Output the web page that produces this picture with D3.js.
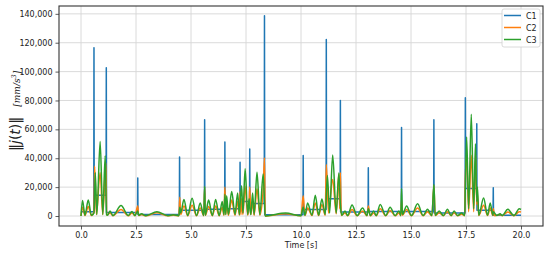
<!DOCTYPE html>
<html lang="en">
<head>
    <meta charset="UTF-8">
    <title>Jerk norm over time</title>
    <script src="https://d3js.org/d3.v7.min.js"></script>
    <style>
        body { margin: 0; background: #fff; }
        text { font-family: "DejaVu Sans", sans-serif; fill: #222; }
        .grid line { stroke: #d6d6d6; stroke-width: 0.9; }
        .series { fill: none; stroke-width: 1.5; stroke-linejoin: round; }
    </style>
</head>
<body>
<script>
// time ticks and value ticks
const xTicks = [0, 2.5, 5, 7.5, 10, 12.5, 15, 17.5, 20];
const yTicks = [0, 20000, 40000, 60000, 80000, 100000, 120000, 140000];
const seriesNames = ["C1", "C2", "C3"];
const colors = ["#1f77b4", "#ff7f0e", "#2ca02c"];

// C1: flat levels with spikes at each switch
const c1 = [
    [0, 3000], [0.58, 3000], [0.59, 116600], [0.60, 14300], [1.14, 14300], [1.15, 102600], [1.16, 2500],
    [2.57, 2500], [2.58, 26400], [2.59, 1000], [4.47, 1000], [4.48, 40900], [4.49, 3900],
    [5.61, 3900], [5.62, 66600], [5.63, 4600], [6.53, 4600], [6.54, 51200], [6.55, 5000],
    [7.22, 5000], [7.23, 37300], [7.24, 10100], [7.66, 10100], [7.67, 46400], [7.68, 8700],
    [8.33, 8700], [8.34, 138700], [8.35, 800], [10.09, 800], [10.10, 41900], [10.11, 4500],
    [11.14, 4500], [11.15, 122300], [11.16, 12000], [11.78, 12000], [11.79, 80000], [11.80, 2800],
    [13.05, 2800], [13.06, 33400], [13.07, 3200], [14.56, 3200], [14.57, 61300], [14.58, 3200],
    [16.03, 3200], [16.04, 66600], [16.05, 2100], [17.46, 2100], [17.47, 81900], [17.48, 19000],
    [17.98, 19000], [17.99, 63800], [18.00, 3900], [18.73, 3900], [18.74, 19600], [18.75, 500], [20, 500]
];

// C2
const c2 = [
    [0, 0], [0.07, 6000], [0.18, 300], [0.33, 6500], [0.47, 300], [0.59, 3000], [0.62, 34400], [0.70, 1000],
    [0.87, 30000], [0.99, 1000], [1.13, 36800], [1.17, 500],
    [1.32, 2000], [1.45, 200], [1.82, 4500], [2.15, 200], [2.32, 2000], [2.45, 200], [2.58, 7000], [2.62, 300],
    [2.75, 1000], [2.95, 100], [3.45, 2200], [3.95, 100], [4.20, 500], [4.45, 200],
    [4.49, 13000], [4.53, 1000], [4.68, 7000], [4.85, 200], [5.05, 7500], [5.25, 200], [5.42, 5500], [5.58, 200],
    [5.62, 20000], [5.65, 500], [5.80, 6500], [5.97, 200], [6.12, 7000], [6.28, 200], [6.42, 6000], [6.50, 500],
    [6.54, 20000], [6.58, 1000], [6.62, 9000], [6.70, 500], [6.85, 11000], [7.00, 500], [7.12, 10000], [7.20, 500],
    [7.23, 17000], [7.27, 1000], [7.30, 12000], [7.36, 1000], [7.46, 20600], [7.58, 500], [7.64, 8000],
    [7.67, 20000], [7.72, 1000], [7.80, 10000], [7.87, 500], [8.00, 18800], [8.13, 500], [8.28, 18000],
    [8.34, 40200], [8.37, 0], [8.50, 100], [9.30, 1600], [10.00, 100],
    [10.10, 14000], [10.18, 300], [10.30, 5500], [10.50, 300], [10.65, 9000], [10.80, 300], [10.95, 8000], [11.10, 500],
    [11.15, 35600], [11.25, 2000], [11.44, 25300], [11.60, 1500], [11.72, 28700], [11.76, 5000], [11.79, 30000], [11.83, 300],
    [12.00, 2000], [12.12, 200], [12.32, 4500], [12.55, 200], [12.80, 3500], [13.00, 200],
    [13.06, 7000], [13.15, 200], [13.30, 2000], [13.42, 200], [13.60, 5000], [13.85, 200], [14.05, 3800], [14.28, 200],
    [14.45, 2000], [14.54, 200], [14.57, 11000], [14.61, 500], [14.80, 4500], [15.02, 200], [15.30, 5500], [15.55, 200],
    [15.75, 3000], [15.95, 200], [16.04, 21000], [16.10, 300], [16.28, 2200], [16.47, 200], [16.66, 3000], [16.82, 200],
    [16.96, 2200], [17.12, 200], [17.30, 1200], [17.44, 200], [17.47, 25000], [17.53, 42500], [17.62, 3000],
    [17.74, 42000], [17.85, 3000], [17.94, 42500], [17.99, 8000], [18.02, 15000], [18.08, 300], [18.30, 7500],
    [18.48, 300], [18.60, 5500], [18.72, 300], [18.74, 5000], [18.80, 200], [19.05, 1000], [19.15, 200],
    [19.40, 2800], [19.68, 200], [19.92, 3000], [20, 2800]
];

// C3
const c3 = [
    [0, 0], [0.07, 10800], [0.18, 500], [0.33, 11000], [0.47, 500], [0.59, 2000], [0.65, 30000], [0.72, 1000],
    [0.87, 51600], [0.99, 1000], [1.10, 41800], [1.16, 1000],
    [1.20, 500], [1.32, 3400], [1.45, 300], [1.82, 7200], [2.15, 300], [2.32, 3200], [2.45, 300], [2.58, 3500], [2.62, 500],
    [2.75, 1500], [2.95, 200], [3.45, 3000], [3.95, 200], [4.20, 800], [4.45, 200],
    [4.49, 6000], [4.53, 2000], [4.68, 11500], [4.85, 300], [5.05, 12300], [5.25, 300], [5.42, 9000], [5.58, 300],
    [5.62, 20600], [5.65, 500], [5.80, 11000], [5.97, 300], [6.12, 11500], [6.28, 300], [6.42, 10000], [6.50, 800],
    [6.54, 15000], [6.58, 1000], [6.62, 14000], [6.70, 1000], [6.85, 17000], [7.00, 1000], [7.12, 16000], [7.20, 1000],
    [7.23, 8000], [7.30, 21000], [7.36, 2000], [7.46, 32700], [7.58, 1000], [7.64, 12000],
    [7.67, 6000], [7.72, 1000], [7.80, 16000], [7.87, 1000], [8.00, 30300], [8.13, 1000], [8.28, 29000],
    [8.34, 10000], [8.37, 0], [8.50, 200], [9.30, 2000], [10.00, 200],
    [10.10, 6000], [10.18, 500], [10.30, 9000], [10.50, 500], [10.65, 14400], [10.80, 500], [10.95, 11800], [11.10, 1000],
    [11.20, 28000], [11.30, 2000], [11.44, 42300], [11.60, 2000], [11.72, 29800], [11.79, 8000], [11.85, 500],
    [12.00, 3500], [12.12, 300], [12.32, 7600], [12.55, 300], [12.80, 5500], [13.00, 300],
    [13.06, 5000], [13.15, 300], [13.30, 3500], [13.42, 300], [13.60, 8000], [13.85, 300], [14.05, 6000], [14.28, 300],
    [14.45, 3500], [14.54, 300], [14.57, 19000], [14.61, 1000], [14.80, 7000], [15.02, 300], [15.30, 8500], [15.55, 300],
    [15.75, 4600], [15.95, 300], [16.04, 21800], [16.10, 500], [16.28, 3500], [16.47, 300], [16.66, 4600], [16.82, 300],
    [16.96, 3500], [17.12, 300], [17.30, 2000], [17.44, 300], [17.47, 20000], [17.53, 54700], [17.62, 5000],
    [17.74, 70500], [17.85, 5000], [17.93, 50000], [17.99, 10000], [18.02, 20000], [18.08, 500], [18.30, 12400],
    [18.48, 500], [18.60, 9000], [18.72, 500], [18.74, 3000], [18.90, 300], [19.05, 1500], [19.15, 300],
    [19.40, 4600], [19.68, 300], [19.92, 5000], [20, 4500]
];

const seriesData = [c1, c2, c3];

const W = 550, H = 255;
const margin = {top: 6, right: 7, bottom: 29, left: 59};
const width = W - margin.left - margin.right;
const height = H - margin.top - margin.bottom;

const svg = d3.select("body").append("svg")
    .attr("width", W)
    .attr("height", H);

const g = svg.append("g")
    .attr("transform", `translate(${margin.left},${margin.top})`);

const x = d3.scaleLinear().domain([-1, 21]).range([0, width]);
const y = d3.scaleLinear().domain([-6925, 145425]).range([height, 0]);

// grid
g.append("g").attr("class", "grid")
    .selectAll("line").data(xTicks).enter().append("line")
    .attr("x1", d => x(d)).attr("x2", d => x(d))
    .attr("y1", 0).attr("y2", height);
g.append("g").attr("class", "grid")
    .selectAll("line").data(yTicks).enter().append("line")
    .attr("x1", 0).attr("x2", width)
    .attr("y1", d => y(d)).attr("y2", d => y(d));

// series
const lineLinear = d3.line().x(d => x(d[0])).y(d => y(d[1]));
const lineSmooth = d3.line().x(d => x(d[0])).y(d => y(d[1])).curve(d3.curveMonotoneX);

seriesData.forEach((s, i) => {
    g.append("path")
        .datum(s)
        .attr("class", "series")
        .attr("stroke", colors[i])
        .attr("d", i === 0 ? lineLinear : lineSmooth);
});

// axes
const fmt = d3.format(",");
const xAxis = g.append("g")
    .attr("transform", `translate(0,${height})`)
    .call(d3.axisBottom(x).tickValues(xTicks).tickFormat(d3.format(".1f")).tickSize(3.5).tickPadding(3));
const yAxis = g.append("g")
    .call(d3.axisLeft(y).tickValues(yTicks).tickFormat(fmt).tickSize(3.5).tickPadding(3));

[xAxis, yAxis].forEach(a => {
    a.select(".domain").remove();
    a.selectAll(".tick line").attr("stroke", "#333").attr("stroke-width", 0.8);
    a.selectAll(".tick text")
        .attr("font-family", "DejaVu Sans, sans-serif")
        .attr("font-size", 8)
        .attr("fill", "#222");
});

// frame
g.append("rect")
    .attr("width", width).attr("height", height)
    .attr("fill", "none").attr("stroke", "#333").attr("stroke-width", 1.1);

// axis titles
svg.append("text")
    .attr("x", margin.left + x(10))
    .attr("y", 248)
    .attr("text-anchor", "middle")
    .attr("font-size", 8)
    .text("Time [s]");

const ylab = svg.append("text")
    .attr("transform", "translate(20,151) rotate(-90)")
    .attr("text-anchor", "start");
ylab.append("tspan")
    .attr("font-family", "DejaVu Sans, sans-serif")
    .attr("font-size", 14)
    .text("‖");
ylab.append("tspan")
    .attr("font-family", "DejaVu Sans, sans-serif")
    .attr("font-style", "italic")
    .attr("font-size", 14)
    .text("j");
ylab.append("tspan")
    .attr("font-family", "DejaVu Sans, sans-serif")
    .attr("font-size", 14)
    .text("(");
ylab.append("tspan")
    .attr("font-family", "DejaVu Sans, sans-serif")
    .attr("font-style", "italic")
    .attr("font-size", 14)
    .text("t");
ylab.append("tspan")
    .attr("font-family", "DejaVu Sans, sans-serif")
    .attr("font-size", 14)
    .text(")‖");
ylab.append("tspan")
    .attr("dx", 10)
    .attr("font-family", "DejaVu Serif, serif")
    .attr("font-style", "italic")
    .attr("font-size", 9)
    .text("[mm/s");
ylab.append("tspan")
    .attr("dy", -4.5)
    .attr("font-family", "DejaVu Serif, serif")
    .attr("font-style", "italic")
    .attr("font-size", 6.5)
    .text("3");
ylab.append("tspan")
    .attr("dy", 4.5)
    .attr("font-family", "DejaVu Serif, serif")
    .attr("font-style", "italic")
    .attr("font-size", 9)
    .text("]");

// legend
const leg = svg.append("g").attr("transform", "translate(502,9)");
leg.append("rect")
    .attr("width", 38).attr("height", 38).attr("rx", 2)
    .attr("fill", "#fff").attr("fill-opacity", 0.85)
    .attr("stroke", "#d0d0d0").attr("stroke-width", 0.8);
seriesNames.forEach((n, i) => {
    leg.append("line")
        .attr("x1", 2).attr("x2", 19)
        .attr("y1", 6.5 + i * 12).attr("y2", 6.5 + i * 12)
        .attr("stroke", colors[i]).attr("stroke-width", 1.5);
    leg.append("text")
        .attr("x", 24).attr("y", 9.5 + i * 12)
        .attr("font-size", 8)
        .text(n);
});
</script>
</body>
</html>
